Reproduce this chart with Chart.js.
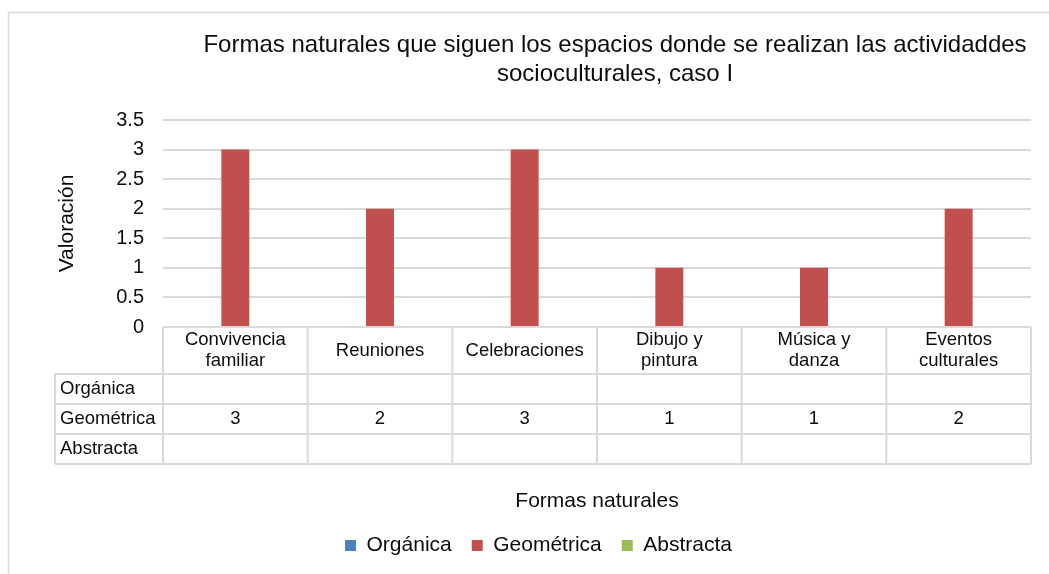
<!DOCTYPE html>
<html lang="es">
<head>
<meta charset="utf-8">
<title>Formas naturales - caso I</title>
<script src="https://cdn.jsdelivr.net/npm/chart.js@4.4.1/dist/chart.umd.min.js"></script>
<style>
    html, body { margin: 0; padding: 0; background: #ffffff; overflow: hidden; }
    #grafico { display: block; }
</style>
</head>
<body>
<canvas id="grafico" width="1049" height="574"></canvas>
<script>
/*========== DATOS ==========*/
// Categorías (cada una partida en líneas como en la tabla)
const categorias = [
    ['Convivencia', 'familiar'],
    ['Reuniones'],
    ['Celebraciones'],
    ['Dibujo y', 'pintura'],
    ['Música y', 'danza'],
    ['Eventos', 'culturales']
];
const nombresSeries = ['Orgánica', 'Geométrica', 'Abstracta'];
const organica = [null, null, null, null, null, null];
const geometrica = [3, 2, 3, 1, 1, 2];
const abstracta = [null, null, null, null, null, null];
const coloresSeries = ['#4f81bd', '#c0504d', '#9bbb59'];

const tituloLineas = ['Formas naturales que siguen los espacios donde se realizan las actividaddes', 'socioculturales, caso I'];
const tituloEjeY = 'Valoración';
const tituloEjeX = 'Formas naturales';

const fuente = "'Liberation Sans', Arial, sans-serif";
const colorTexto = '#0d0d0d';
const colorLineas = '#d9d9d9';

// Plugin para el marco, el título y la tabla de datos bajo el gráfico
const tablaDatos = {
    id: 'tablaDatos',
    afterDraw(chart) {
        const ctx = chart.ctx;
        const area = chart.chartArea;
        const x = chart.scales.x;
        const anchoCat = x.width / categorias.length;
        const filas = [374, 404, 434, 464]; // bordes de las filas de la tabla
        const izqEtiquetas = 55;

        ctx.save();

        // marco exterior
        ctx.strokeStyle = colorLineas;
        ctx.lineWidth = 1.5;
        ctx.strokeRect(8.5, 12.5, 1100, 600);

        // título
        ctx.fillStyle = colorTexto;
        ctx.font = '24px ' + fuente;
        ctx.textAlign = 'center';
        ctx.textBaseline = 'middle';
        ctx.fillText(tituloLineas[0], 615, 45);
        ctx.fillText(tituloLineas[1], 615, 74);

        // líneas de la tabla
        ctx.lineWidth = 2;
        ctx.beginPath();
        ctx.moveTo(area.left, area.bottom);
        ctx.lineTo(area.right, area.bottom);
        filas.forEach(function(y) {
            ctx.moveTo(izqEtiquetas, y);
            ctx.lineTo(area.right, y);
        });
        ctx.moveTo(izqEtiquetas, filas[0]);
        ctx.lineTo(izqEtiquetas, filas[3]);
        for (let i = 0; i <= categorias.length; i++) {
            const xi = area.left + i * anchoCat;
            ctx.moveTo(xi, area.bottom);
            ctx.lineTo(xi, filas[3]);
        }
        ctx.stroke();

        // encabezados de categorías
        ctx.font = '18.5px ' + fuente;
        const centroEnc = (area.bottom + filas[0]) / 2;
        categorias.forEach(function(lineas, i) {
            const cx = x.getPixelForValue(i);
            lineas.forEach(function(txt, j) {
                const y = centroEnc + (j - (lineas.length - 1) / 2) * 21;
                ctx.fillText(txt, cx, y);
            });
        });

        // filas de series con sus valores
        chart.data.datasets.forEach(function(ds, k) {
            const cy = (filas[k] + filas[k + 1]) / 2;
            ctx.textAlign = 'left';
            ctx.fillText(ds.label, izqEtiquetas + 5, cy);
            ctx.textAlign = 'center';
            ds.data.forEach(function(v, i) {
                if (v !== null) ctx.fillText(String(v), x.getPixelForValue(i), cy);
            });
        });

        ctx.restore();
    }
};

const ctx = document.getElementById('grafico').getContext('2d');
const grafico = new Chart(ctx, {
    type: 'bar',
    data: {
        labels: categorias,
        datasets: [
            { label: nombresSeries[0], data: organica, backgroundColor: coloresSeries[0], borderWidth: 0 },
            { label: nombresSeries[1], data: geometrica, backgroundColor: coloresSeries[1], borderWidth: 0 },
            { label: nombresSeries[2], data: abstracta, backgroundColor: coloresSeries[2], borderWidth: 0 }
        ]
    },
    options: {
        responsive: false,
        devicePixelRatio: 1,
        animation: false,
        datasets: {
            bar: { categoryPercentage: 0.58, barPercentage: 1 }
        },
        layout: {
            padding: { top: 120, left: 46, right: 18, bottom: 8 }
        },
        plugins: {
            title: { display: false },
            tooltip: { enabled: false },
            legend: {
                position: 'bottom',
                labels: {
                    boxWidth: 11,
                    boxHeight: 11,
                    padding: 20,
                    color: colorTexto,
                    font: { family: fuente, size: 21 }
                }
            }
        },
        scales: {
            x: {
                ticks: { display: false },
                grid: { display: false },
                border: { display: false },
                title: {
                    display: true,
                    text: tituloEjeX,
                    color: colorTexto,
                    font: { family: fuente, size: 21 },
                    padding: { top: 0, bottom: 1 }
                },
                afterFit: function(escala) { escala.height = 188; }
            },
            y: {
                min: 0,
                max: 3.5,
                ticks: {
                    stepSize: 0.5,
                    padding: 19,
                    color: colorTexto,
                    font: { family: fuente, size: 20 },
                    callback: function(valor) { return String(valor); }
                },
                grid: { color: colorLineas, lineWidth: 2, drawTicks: false },
                border: { display: false },
                title: {
                    display: true,
                    text: tituloEjeY,
                    color: colorTexto,
                    font: { family: fuente, size: 21 },
                    padding: { top: 9, bottom: 0 }
                },
                afterFit: function(escala) { escala.width = 117; }
            }
        }
    },
    plugins: [tablaDatos]
});
</script>
</body>
</html>
